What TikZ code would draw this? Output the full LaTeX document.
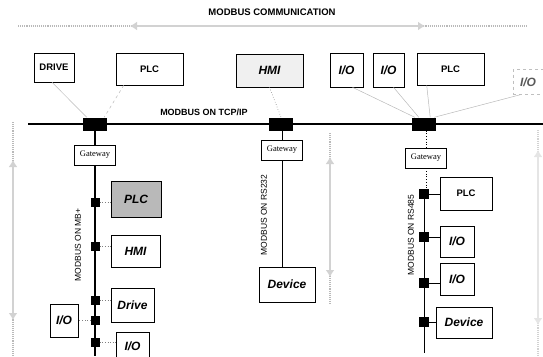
\documentclass[tikz,border=0pt]{standalone}
\usepackage{fontspec}
\setmainfont{Liberation Sans}
\newfontfamily\serifg{Liberation Serif}
\usetikzlibrary{arrows.meta}
\begin{document}
\begin{tikzpicture}[x=1pt,y=-1pt,
 box/.style={draw=black, line width=0.6pt, fill=white, inner sep=0pt},
 gw/.style={box, minimum width=41pt, minimum height=20pt, font=\serifg\fontsize{8.5}{9}\selectfont},
 blk/.style={fill=black, inner sep=0pt, minimum width=24pt, minimum height=13pt},
 sq/.style={fill=black, inner sep=0pt, minimum size=9pt},
 bf/.style={font=\bfseries\fontsize{9.5}{10}\selectfont},
 itf/.style={font=\bfseries\itshape\fontsize{12}{13}\selectfont},
 gline/.style={draw=gray!55, line width=0.5pt},
 dotl/.style={draw=gray, line width=0.6pt, dotted},
 bus/.style={line width=1.2pt},
 rlab/.style={rotate=90, font=\fontsize{8.5}{9}\selectfont},
 bigarrow/.style={draw=gray!35, line width=2pt, {Latex[length=7pt,width=9pt]}-{Latex[length=7pt,width=9pt]}},
 ext/.style={draw=gray!55, line width=1.1pt, densely dotted},
]
\useasboundingbox (0,0) rectangle (543,356);

% title and top arrow
\node[font=\bfseries\fontsize{9.5}{10}\selectfont] (title) at (272,12) {MODBUS COMMUNICATION};
\coordinate (ta) at (18,26); \coordinate (tb) at (528,26);
\coordinate (tha) at (130,26); \coordinate (thb) at (425,26);
\draw[ext] (ta) -- (tb);
\draw[bigarrow] (tha) -- (thb);

% top devices
\node[box, bf, minimum width=40pt, minimum height=29pt] (drive) at (54,67.5) {DRIVE};
\node[box, bf, minimum width=67pt, minimum height=32pt] (plc1) at (149.5,69) {PLC};
\node[box, itf, fill=gray!12, minimum width=67pt, minimum height=33pt] (hmi1) at (269.5,70.5) {HMI};
\node[box, itf, minimum width=33pt, minimum height=34pt] (io1) at (346.5,70) {I/O};
\node[box, itf, minimum width=31pt, minimum height=34pt] (io2) at (388.5,70) {I/O};
\node[box, bf, minimum width=67pt, minimum height=32pt] (plc2) at (450.5,69) {PLC};
\node[box, itf, draw=gray!50, dashed, text=gray!70!black, minimum width=30pt, minimum height=25pt] (io3) at (528,82) {I/O};

% TCP/IP bus
\coordinate (busA) at (28,124); \coordinate (busB) at (543,124);
\draw[bus] (busA) -- (busB);
\node[font=\bfseries\fontsize{9}{10}\selectfont] (tcp) at (204,112) {MODBUS ON TCP/IP};
\node[blk] (b1) at (95,124) {};
\node[blk] (b2) at (281,124) {};
\node[blk] (b3) at (424,124) {};

\draw[gline] ([xshift=-2pt]drive.south) -- ([xshift=4pt]b1.north west);
\draw[gline, dashed] ([xshift=8pt]plc1.south west) -- ([xshift=-3pt]b1.north east);
\draw[dotl] (hmi1.south) -- (b2.north);
\draw[gline] ([xshift=6pt]io1.south) -- ([xshift=3pt]b3.north west);
\draw[gline] ([xshift=5pt]io2.south) -- ([xshift=7pt]b3.north west);
\draw[gline] ([xshift=10pt]plc2.south west) -- ([xshift=-6pt]b3.north east);
\draw[gline] ([xshift=-8pt]io3.south) -- ([xshift=-2pt]b3.north east);

% left branch (MB+)
\node[gw] (gw1) at (95,155) {Gateway};
\coordinate (e1) at (95,356);
\draw[bus] (b1.south) -- (gw1.north);
\draw[bus] (gw1.south) -- (e1);
\node[sq] (s11) at (95,202) {};
\node[sq] (s12) at (95,246) {};
\node[sq] (s13) at (95,300) {};
\node[sq] (s14) at (95,320) {};
\node[sq] (s15) at (95,342) {};
\node[box, itf, fill=gray!55, minimum width=50pt, minimum height=36pt] (plcL) at (136,199) {PLC};
\node[box, itf, minimum width=49pt, minimum height=32pt] (hmiL) at (135.5,251) {HMI};
\node[box, itf, minimum width=43pt, minimum height=34pt] (driveL) at (132.5,305) {Drive};
\node[box, itf, minimum width=28pt, minimum height=33pt] (ioL) at (64,320.5) {I/O};
\node[box, itf, minimum width=33pt, minimum height=28pt] (ioB) at (132.5,346) {I/O};
\draw[dotl] (s11.east) -- (s11.east -| plcL.west);
\draw[dotl] (s12.east) -- (s12.east -| hmiL.west);
\draw[dotl] (s13.east) -- (s13.east -| driveL.west);
\draw[dotl] (s14.west) -- (s14.west -| ioL.east);
\draw[dotl] (s15.east) -- (s15.east -| ioB.west);
\node[rlab] (lab1) at (78,245) {MODBUS ON MB+};

% middle branch (RS232)
\node[gw] (gw2) at (282,150) {Gateway};
\node[box, itf, minimum width=56pt, minimum height=35pt] (devM) at (287,284.5) {Device};
\draw[line width=0.8pt] (b2.south -| gw2.north) -- (gw2.north);
\draw[line width=1pt] (gw2.south) -- (gw2.south |- devM.north);
\node[rlab] (lab2) at (264,215) {MODBUS ON RS232};

% right branch (RS485)
\node[gw] (gw3) at (426,158) {Gateway};
\node[sq, minimum size=10pt] (r1) at (424,194) {};
\node[sq, minimum size=10pt] (r2) at (424,237) {};
\node[sq, minimum size=10pt] (r3) at (424,283) {};
\node[sq, minimum size=10pt] (r4) at (424,322) {};
\coordinate (e3) at (424,353);
\draw[line width=0.7pt, dotted] (b3.south -| gw3.north) -- (gw3.north);
\draw[line width=0.7pt, dotted] (gw3.south) -- (gw3.south |- r1.north);
\draw[line width=0.8pt] (r1.south) -- (e3);
\node[box, bf, minimum width=52pt, minimum height=33pt] (plcR) at (466,193.5) {PLC};
\node[box, itf, minimum width=34pt, minimum height=31pt] (ioR1) at (457,241.5) {I/O};
\node[box, itf, minimum width=34pt, minimum height=32pt] (ioR2) at (457,279) {I/O};
\node[box, itf, minimum width=56pt, minimum height=31pt] (devR) at (464,322.5) {Device};
\draw[line width=0.7pt] (r1.east) -- (r1.east -| plcR.west);
\draw[line width=0.7pt] (r2.east) -- (r2.east -| ioR1.west);
\draw[line width=0.7pt] (r3.east) -- (r3.east -| ioR2.west);
\draw[line width=0.7pt] (r4.east) -- (r4.east -| devR.west);
\node[rlab] (lab3) at (411,235) {MODBUS ON RS485};

% vertical gray arrows
\coordinate (la) at (13,122); \coordinate (lb) at (13,356);
\coordinate (lha) at (13,160); \coordinate (lhb) at (13,320);
\draw[ext] (la) -- (lb);
\draw[bigarrow] (lha) -- (lhb);
\coordinate (ma) at (330,133); \coordinate (mb) at (330,305);
\coordinate (mha) at (330,157); \coordinate (mhb) at (330,277);
\draw[ext] (ma) -- (mb);
\draw[bigarrow] (mha) -- (mhb);
\coordinate (ra) at (538,130); \coordinate (rb) at (538,356);
\coordinate (rha) at (538,150); \coordinate (rhb) at (538,325);
\draw[ext, draw=gray!35] (ra) -- (rb);
\draw[bigarrow, draw=gray!20] (rha) -- (rhb);
\end{tikzpicture}
\end{document}
